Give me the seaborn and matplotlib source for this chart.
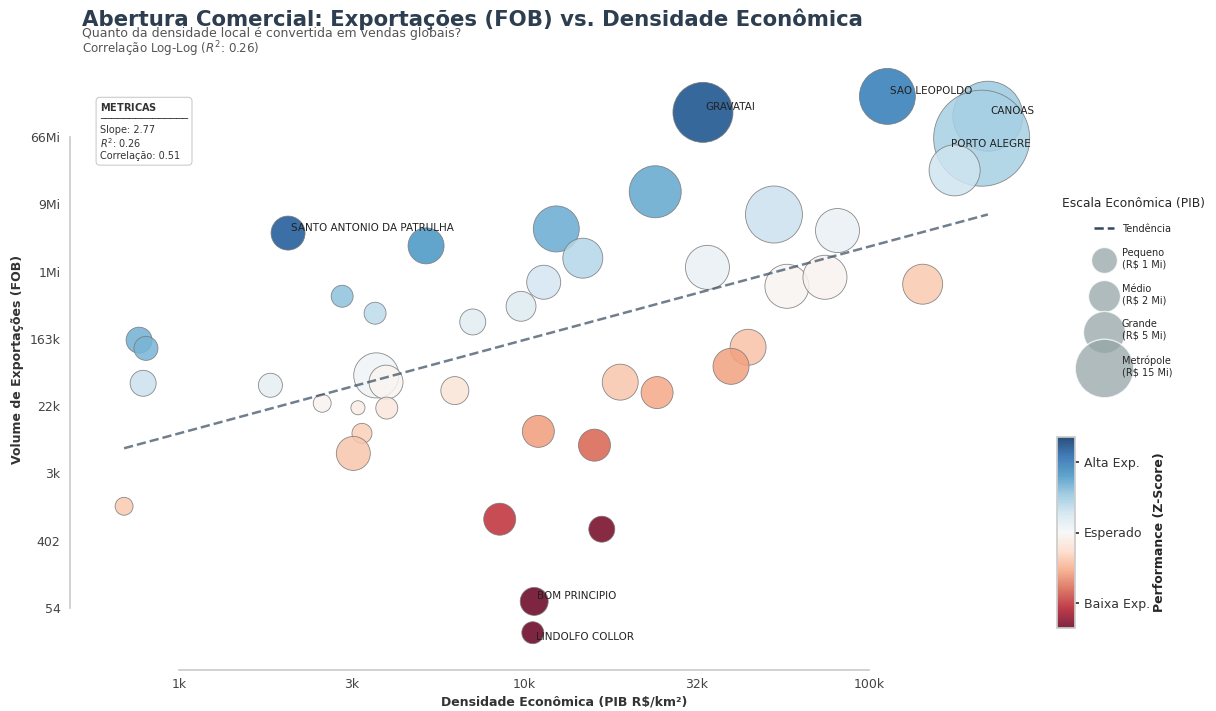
import numpy as np
import pandas as pd
import matplotlib
matplotlib.use("Agg")
import matplotlib.pyplot as plt
from matplotlib.lines import Line2D
import seaborn as sns

# Dados (densidade PIB R$/km2, exportacoes FOB, PIB, z-score)
densidade = [33000, 113000, 221000, 212000, 177000, 24000, 53000, 81000, 2070, 5200,
             12400, 14800, 34000, 11400, 57800, 74500, 143000, 2970, 3700, 9800,
             7100, 766, 802, 787, 1840, 3730, 3980, 44600, 39800, 19000,
             24300, 6300, 2600, 3300, 4000, 11000, 3390, 3200, 16000, 693,
             8500, 16800, 10700, 10600]
exportacoes = [138e6, 222e6, 123e6, 64e6, 24.6e6, 13e6, 6.6e6, 4.1e6, 3.8e6, 2.6e6,
               4.3e6, 1.8e6, 1.37e6, 0.88e6, 0.78e6, 1.02e6, 0.83e6, 0.58e6, 0.35e6, 0.43e6,
               0.27e6, 157e3, 123e3, 43.5e3, 41e3, 55e3, 45e3, 127e3, 72e3, 45e3,
               33e3, 35e3, 24e3, 21e3, 20.8e3, 10.4e3, 9.8e3, 5.4e3, 6.9e3, 1.12e3,
               762, 566, 66, 26]
pib = [16.3, 12.9, 27.2, 78, 9.5, 10.1, 13.7, 5.8, 2.45, 2.96,
       6.7, 4.2, 5.8, 2.45, 5.8, 5.8, 4.2, 0.57, 0.57, 1.6,
       1.0, 1.0, 0.77, 1.0, 0.77, 6.3, 2.45, 2.96, 2.96, 2.96,
       2.0, 1.28, 0.29, 0.13, 0.57, 2.0, 0.42, 2.45, 2.0, 0.29,
       2.0, 1.0, 1.28, 0.57]
zscore = [2.4, 1.9, 1.0, 0.9, 0.55, 1.4, 0.6, 0.2, 2.3, 1.6,
          1.35, 0.8, 0.2, 0.5, -0.05, -0.1, -0.7, 1.1, 0.7, 0.35,
          0.3, 1.3, 1.25, 0.6, 0.25, 0.1, -0.05, -0.8, -1.1, -0.75,
          -1.05, -0.35, -0.08, -0.2, -0.3, -1.15, -0.65, -0.75, -1.6, -0.7,
          -2.0, -2.6, -2.7, -2.7]
municipio = ["GRAVATAI", "SAO LEOPOLDO", "CANOAS", "PORTO ALEGRE"] + [""] * 4 + \
            ["SANTO ANTONIO DA PATRULHA"] + [""] * 33 + ["BOM PRINCIPIO", "LINDOLFO COLLOR"]

# Reta de tendencia (log-log) e metricas
trend_coef = [1.207, 0.370]
slope_txt, r2_txt, corr_txt = 2.77, 0.26, 0.51

x_ticks = [1e3, 3162, 1e4, 31623, 1e5]
x_labels = ["1k", "3k", "10k", "32k", "100k"]
y_ticks = [54.3, 402, 2977, 22050, 163300, 1.21e6, 8.96e6, 66.3e6]
y_labels = ["54", "402", "3k", "22k", "163k", "1Mi", "9Mi", "66Mi"]

legend_pib = [1, 2, 5, 15]
legend_names = ["Pequeno\n(R$ 1 Mi)", "Médio\n(R$ 2 Mi)", "Grande\n(R$ 5 Mi)", "Metrópole\n(R$ 15 Mi)"]

df = pd.DataFrame({"dens": densidade, "fob": exportacoes, "pib": pib, "z": zscore, "nome": municipio})


def area(v):
    return 350 * v ** 0.6


sns.set_theme(style="white")
plt.rcParams['font.family'] = ['DejaVu Sans']

fig = plt.figure(figsize=(12.16, 7.11), dpi=100)
ax = fig.add_axes([0.0691, 0.0774, 0.7903, 0.8354])

norm = plt.Normalize(-2.7, 2.7)
sns.scatterplot(data=df, x="dens", y="fob", hue="z", palette="RdBu", hue_norm=norm,
                size="pib", sizes={v: area(v) for v in df["pib"].unique()},
                alpha=0.85, edgecolor="#777777", linewidth=0.6, legend=False, ax=ax)

ax.set_xscale("log")
ax.set_yscale("log")
ax.set_xlim(10 ** 2.7246, 10 ** 5.51)
ax.set_ylim(10 ** 1.1145, 10 ** 8.7908)

# tendencia
xs = np.log10([min(densidade), max(densidade)])
ax.plot(10 ** xs, 10 ** (trend_coef[0] * xs + trend_coef[1]), ls="--", lw=1.8,
        color="#34495e", alpha=0.7, zorder=3)

# rotulos dos municipios
for _, r in df[df["nome"] != ""].iterrows():
    off = (2, 0)
    if r["nome"] == "PORTO ALEGRE":
        off = (-22, -8)
    elif r["nome"] == "LINDOLFO COLLOR":
        off = (2, -7)
    ax.annotate(r["nome"], (r["dens"], r["fob"]), xytext=off, textcoords="offset points",
                ha="left", va="bottom", fontsize=7.5, color="#222222", zorder=5)

ax.set_xticks(x_ticks)
ax.set_xticklabels(x_labels)
ax.set_yticks(y_ticks)
ax.set_yticklabels(y_labels)
ax.minorticks_off()
ax.tick_params(labelsize=9, colors="#444444", length=0)
ax.tick_params(axis="y", pad=7)
ax.tick_params(axis="x", pad=6)
ax.set_xlabel("Densidade Econômica (PIB R$/km²)", fontsize=9, fontweight="bold", color="#333333", labelpad=3)
ax.set_ylabel("Volume de Exportações (FOB)", fontsize=9, fontweight="bold", color="#333333")
sns.despine(ax=ax, offset=10, trim=True)
for sp in ["left", "bottom"]:
    ax.spines[sp].set_color("#cccccc")

# caixa de metricas
ax.text(0.0166, 0.934, "$\\bf{METRICAS}$\n" + "\u2500" * 15 + f"\nSlope: {slope_txt}\n$R^2$: {r2_txt}\nCorrelação: {corr_txt}",
        transform=ax.transAxes, ha="left", va="top", fontsize=7, color="#333333", linespacing=1.12,
        bbox=dict(boxstyle="round,pad=0.4", fc="white", ec="#cccccc", lw=0.8))

# titulos
fig.text(82 / 1216, 1 - 19 / 711, "Abertura Comercial: Exportações (FOB) vs. Densidade Econômica",
         fontsize=15.3, fontweight="bold", color="#2c3e50", va="center", ha="left")
fig.text(82 / 1216, 1 - 33 / 711, "Quanto da densidade local é convertida em vendas globais?",
         fontsize=9, color="#555555", va="center", ha="left")
fig.text(82 / 1216, 1 - 49 / 711, f"Correlação Log-Log ($R^2$: {r2_txt})",
         fontsize=8.6, color="#555555", va="center", ha="left")

# legenda de tamanhos
handles = [Line2D([0], [0], ls="--", lw=1.8, color="#34495e")]
labels = ["Tendência"]
for v, n in zip(legend_pib, legend_names):
    handles.append(ax.scatter([], [], s=area(v), color="#95a5a6", alpha=0.75, edgecolor="white"))
    labels.append(n)
fig.legend(handles, labels, title="Escala Econômica (PIB)", loc="upper left",
           bbox_to_anchor=(1053 / 1216, 1 - 188 / 711), frameon=False, fontsize=7,
           title_fontsize=8.8, labelspacing=1.45, handletextpad=0.8, scatterpoints=1)

# barra de cores
cax = fig.add_axes([1057 / 1216, 1 - 628 / 711, 18 / 1216, 191 / 711])
sm = plt.cm.ScalarMappable(cmap="RdBu", norm=norm)
cb = fig.colorbar(sm, cax=cax, alpha=0.85)
cb.set_ticks([2, 0, -2])
cb.set_ticklabels(["Alta Exp.", "Esperado", "Baixa Exp."])
cb.ax.tick_params(labelsize=9, colors="#333333", length=3)
cb.outline.set_edgecolor("#cccccc")
cb.set_label("Performance (Z-Score)", fontsize=9, fontweight="bold", labelpad=2)

fig.savefig("out.png", dpi=100)
